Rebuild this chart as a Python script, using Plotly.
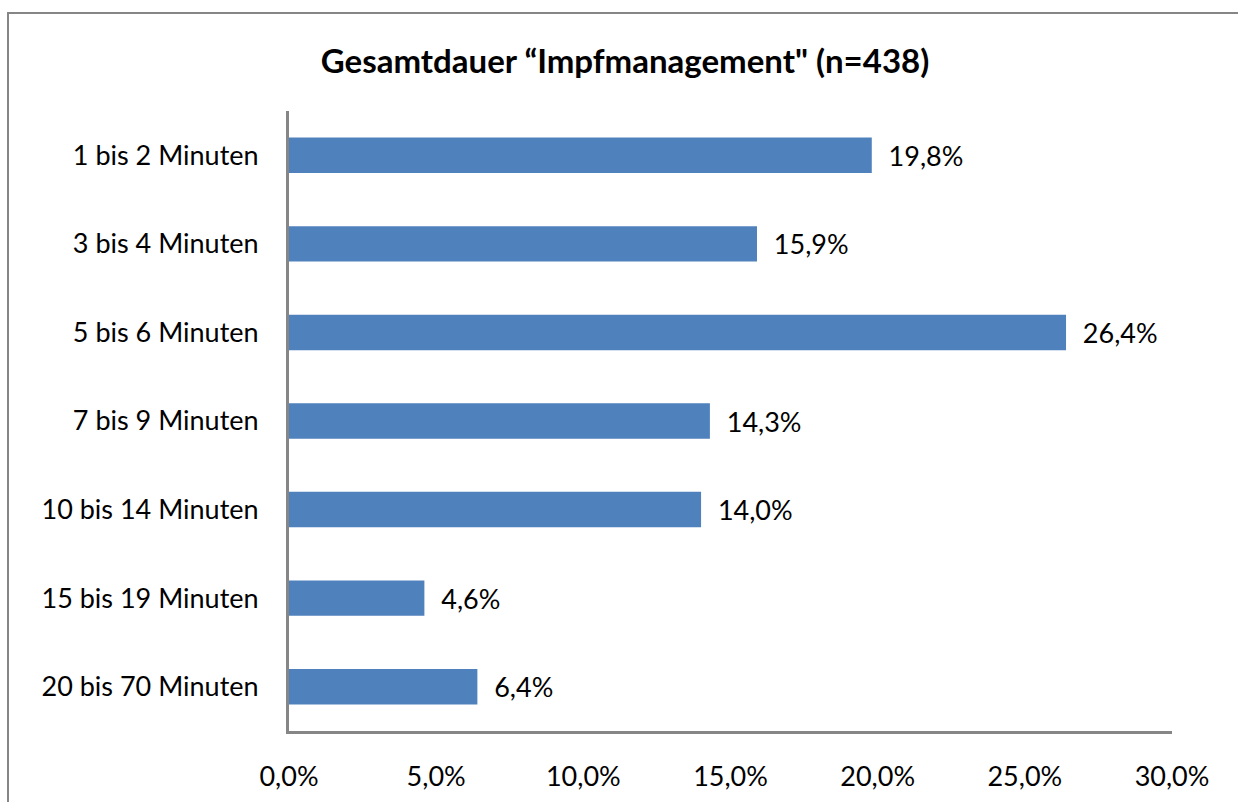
import plotly.graph_objects as go

categories = ["1 bis 2 Minuten", "3 bis 4 Minuten", "5 bis 6 Minuten", "7 bis 9 Minuten",
              "10 bis 14 Minuten", "15 bis 19 Minuten", "20 bis 70 Minuten"]
values = [19.8, 15.9, 26.4, 14.3, 14.0, 4.6, 6.4]
x_ticks = [0, 5, 10, 15, 20, 25, 30]
x_tick_labels = ["0,0%", "5,0%", "10,0%", "15,0%", "20,0%", "25,0%", "30,0%"]

W, H = 1238, 802
L, R, T, B = 289, 66, 111, 71
pw, ph = W - L - R, H - T - B

FONT = "Lato, Carlito, Calibri, sans-serif"

fig = go.Figure(go.Bar(
    x=values, y=categories, orientation="h",
    marker=dict(color="#4F81BD", line=dict(width=0)),
    texttemplate="  %{x:.1f}%", textposition="outside",
    textfont=dict(size=27, color="#000", family=FONT),
    cliponaxis=False, width=0.4,
))

def px(xp):
    return (xp - L) / pw

def py(yp):
    return (H - B - yp) / ph

fig.update_layout(
    width=W, height=H,
    margin=dict(l=L, r=R, t=T, b=B, autoexpand=False),
    paper_bgcolor="white", plot_bgcolor="white",
    separators=",.",
    showlegend=False,
    font=dict(family=FONT, size=27, color="#000"),
    title=dict(text="<b>Gesamtdauer “Impfmanagement\" (n=438)</b>",
               x=625 / W, xanchor="center", y=1 - 61 / H, yanchor="middle",
               font=dict(size=33, family=FONT, color="#000")),
    xaxis=dict(range=[0, 30], tickvals=x_ticks, ticktext=x_tick_labels,
               showgrid=False, zeroline=False, showline=True, linecolor="#868686",
               linewidth=3, ticks="", ticklabelstandoff=20,
               tickfont=dict(size=27, family=FONT)),
    yaxis=dict(categoryorder="array", categoryarray=categories[::-1],
               range=[-0.5, 6.5], showgrid=False, zeroline=False, showline=True,
               linecolor="#868686", linewidth=3, ticks="", ticklabelstandoff=22,
               tickfont=dict(size=27, family=FONT)),
    shapes=[dict(type="rect", xref="paper", yref="paper",
                 x0=px(8), x1=px(1250), y0=py(815), y1=py(13),
                 line=dict(color="#868686", width=2), fillcolor="rgba(0,0,0,0)",
                 layer="below")],
)

fig.write_html("out.html", config={"displayModeBar": False},
               post_script="document.body.style.margin='0';document.body.style.overflow='hidden';")
